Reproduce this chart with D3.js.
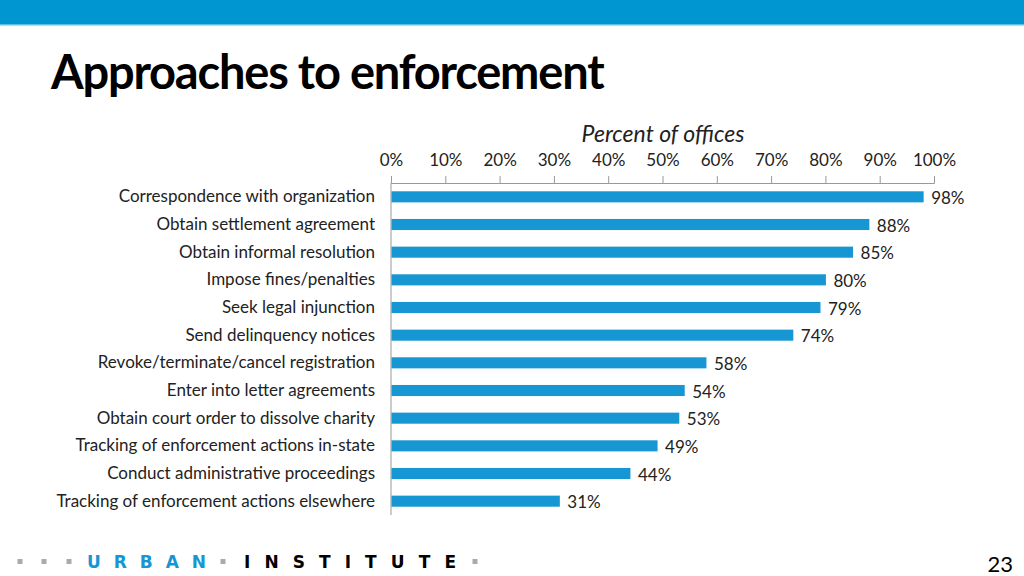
<!DOCTYPE html>
<html>
<head>
<meta charset="utf-8">
<script src="https://cdn.jsdelivr.net/npm/d3@7"></script>
<style>
  body { margin: 0; background: #fff; }
  svg { display: block; font-family: Lato, "Open Sans", sans-serif; }
</style>
</head>
<body>
<div id="chart"></div>
<script>
var categories = [
  "Correspondence with organization",
  "Obtain settlement agreement",
  "Obtain informal resolution",
  "Impose fines/penalties",
  "Seek legal injunction",
  "Send delinquency notices",
  "Revoke/terminate/cancel registration",
  "Enter into letter agreements",
  "Obtain court order to dissolve charity",
  "Tracking of enforcement actions in-state",
  "Conduct administrative proceedings",
  "Tracking of enforcement actions elsewhere"
];
var values = [98, 88, 85, 80, 79, 74, 58, 54, 53, 49, 44, 31];
var ticks = [0, 10, 20, 30, 40, 50, 60, 70, 80, 90, 100];

var svg = d3.select("#chart")
        .append("svg")
        .attr("width", 1024)
        .attr("height", 576);

// top band
svg.append("rect")
        .attr("x", 0).attr("y", 0)
        .attr("width", 1024).attr("height", 24)
        .attr("fill", "#0096d2");
svg.append("rect")
        .attr("x", 0).attr("y", 24)
        .attr("width", 1024).attr("height", 1.5)
        .attr("fill", "#5fc0e6");

svg.append("text")
        .attr("x", 51)
        .attr("y", 89)
        .attr("font-size", "47px")
        .attr("font-weight", "bold")
        .attr("letter-spacing", "-1.2px")
        .attr("fill", "#000")
        .text("Approaches to enforcement");

var x = d3.scaleLinear().domain([0, 100]).range([391, 934]);
var y = d3.scaleBand().domain(categories).range([183, 515]).paddingInner(0.6).paddingOuter(0.3);

svg.append("text")
        .attr("x", 663)
        .attr("y", 142)
        .attr("text-anchor", "middle")
        .attr("font-size", "23px")
        .attr("font-style", "italic")
        .attr("fill", "#222")
        .text("Percent of offices");

var xAxis = svg.append("g")
        .attr("transform", "translate(0,183)")
        .call(d3.axisTop(x).tickValues(ticks).tickSize(7).tickPadding(10)
              .tickFormat(function (d) { return d + "%"; }));
xAxis.select(".domain").attr("stroke", "#999");
xAxis.selectAll(".tick line").attr("stroke", "#999");
xAxis.selectAll("text")
        .attr("font-family", "Lato, sans-serif")
        .attr("font-size", "17px")
        .attr("fill", "#222");

var yAxis = svg.append("g")
        .attr("transform", "translate(391,0)")
        .call(d3.axisLeft(y).tickSize(0).tickPadding(16));
yAxis.select(".domain").attr("stroke", "#999").attr("d", "M0,183V515");
yAxis.selectAll("text")
        .attr("font-family", "Lato, sans-serif")
        .attr("font-size", "17px")
        .attr("fill", "#222");

svg.selectAll(".bar")
        .data(values)
        .enter()
        .append("rect")
        .attr("class", "bar")
        .attr("x", x(0) + 0.5)
        .attr("y", function (d, i) { return y(categories[i]); })
        .attr("width", function (d) { return x(d) - x(0); })
        .attr("height", y.bandwidth())
        .attr("fill", "#1696d2");

svg.selectAll(".val")
        .data(values)
        .enter()
        .append("text")
        .attr("class", "val")
        .attr("x", function (d) { return x(d) + 8; })
        .attr("y", function (d, i) { return y(categories[i]) + y.bandwidth() / 2 + 7; })
        .attr("font-size", "17px")
        .attr("fill", "#222")
        .text(function (d) { return d + "%"; });

// footer logo
var dots = [20, 44, 69, 223, 475];
svg.selectAll(".dot")
        .data(dots)
        .enter()
        .append("rect")
        .attr("x", function (d) { return d - 2.5; })
        .attr("y", 559)
        .attr("width", 5).attr("height", 5)
        .attr("fill", "#aaa");
svg.append("text")
        .attr("x", 87).attr("y", 568)
        .attr("font-family", "'DejaVu Sans', sans-serif")
        .attr("font-weight", "bold")
        .attr("font-size", "17px")
        .attr("textLength", 119)
        .attr("lengthAdjust", "spacing")
        .attr("fill", "#1696d2")
        .text("URBAN");
svg.append("text")
        .attr("x", 244).attr("y", 568)
        .attr("font-family", "'DejaVu Sans', sans-serif")
        .attr("font-weight", "bold")
        .attr("font-size", "17px")
        .attr("textLength", 212)
        .attr("lengthAdjust", "spacing")
        .attr("fill", "#000")
        .text("INSTITUTE");

svg.append("text")
        .attr("x", 1013).attr("y", 572)
        .attr("text-anchor", "end")
        .attr("font-size", "22px")
        .attr("fill", "#000")
        .text("23");
</script>
</body>
</html>
